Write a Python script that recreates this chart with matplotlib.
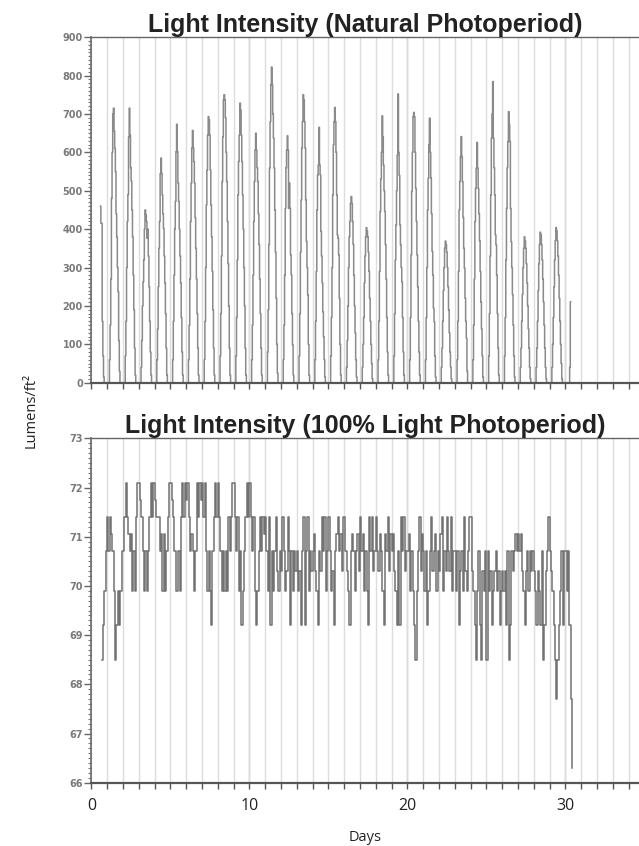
import matplotlib
matplotlib.use("Agg")
import matplotlib.pyplot as plt
import numpy as np
from matplotlib.ticker import MultipleLocator

# ---------------- data ----------------
# Natural photoperiod: light intensity (Lumens/ft^2) per day, sampled at these hours
NAT_HOURS = list(range(4, 20))  # h4 .. h19 (night = 0 outside)
NAT_DAYS = [
    [None, None, None, None, None, None, None, None, None, None, 460, 415, 415, 160, 70, 15],  # day 0
    [60, 150, 270, 480, 600, 700, 715, 655, 610, 550, 440, 380, 300, 237, 110, 30],
    [70, 160, 300, 420, 490, 640, 715, 645, 560, 525, 450, 380, 280, 190, 90, 20],
    [40, 110, 200, 263, 320, 400, 450, 437, 420, 376, 400, 330, 250, 160, 80, 20],
    [60, 140, 250, 350, 420, 545, 585, 545, 489, 440, 402, 330, 260, 180, 90, 20],
    [60, 160, 280, 400, 472, 602, 673, 602, 520, 472, 400, 330, 260, 170, 80, 20],
    [60, 150, 270, 420, 520, 611, 657, 611, 576, 520, 430, 350, 270, 180, 90, 20],
    [60, 160, 300, 463, 554, 645, 693, 685, 645, 554, 463, 380, 290, 190, 90, 20],
    [70, 180, 330, 524, 640, 737, 750, 737, 690, 600, 524, 420, 310, 200, 90, 20],
    [70, 170, 320, 489, 576, 645, 728, 710, 645, 576, 489, 400, 300, 200, 90, 20],
    [60, 150, 280, 420, 524, 606, 650, 606, 560, 524, 440, 360, 270, 180, 90, 20],
    [80, 190, 360, 559, 680, 776, 822, 776, 700, 637, 559, 450, 340, 220, 100, 25],
    [60, 150, 280, 454, 560, 606, 643, 606, 454, 520, 454, 333, 281, 180, 98, 20],
    [70, 180, 340, 476, 611, 680, 750, 737, 680, 611, 476, 368, 300, 229, 100, 20],
    [60, 160, 290, 450, 541, 567, 665, 567, 541, 394, 330, 260, 185, 120, 60, 15],
    [70, 170, 300, 489, 620, 680, 717, 680, 600, 489, 385, 376, 333, 220, 100, 20],
    [40, 110, 200, 300, 380, 420, 467, 485, 467, 420, 360, 280, 200, 130, 60, 15],
    [40, 100, 170, 260, 330, 380, 404, 395, 380, 340, 290, 220, 160, 100, 50, 10],
    [60, 160, 290, 446, 530, 600, 695, 640, 567, 500, 446, 360, 270, 170, 80, 20],
    [70, 180, 320, 411, 500, 593, 752, 600, 540, 411, 359, 300, 263, 170, 80, 20],
    [60, 170, 333, 498, 600, 693, 704, 693, 600, 506, 420, 333, 250, 160, 80, 20],
    [60, 170, 300, 450, 533, 620, 689, 600, 533, 440, 342, 280, 194, 159, 70, 15],
    [40, 90, 160, 240, 300, 350, 369, 360, 340, 300, 250, 190, 130, 80, 40, 10],
    [60, 160, 290, 450, 524, 589, 641, 589, 524, 430, 350, 298, 220, 160, 116, 30],
    [60, 150, 270, 420, 506, 559, 626, 559, 506, 440, 370, 290, 210, 140, 70, 15],
    [70, 180, 330, 489, 637, 700, 784, 637, 560, 489, 385, 359, 280, 180, 90, 20],
    [70, 170, 320, 454, 560, 628, 706, 672, 628, 454, 367, 300, 230, 150, 70, 15],
    [40, 90, 160, 230, 300, 350, 380, 370, 350, 310, 260, 200, 140, 90, 40, 10],
    [40, 90, 160, 240, 310, 360, 392, 385, 360, 320, 270, 210, 150, 90, 40, 10],
    [40, 100, 170, 250, 320, 370, 404, 395, 370, 330, 280, 220, 160, 100, 50, 10],
    [0, 0, 0, 40, 211, None, None, None, None, None, None, None, None, None, None, None],  # day 30
]

# 100% light photoperiod: 12 readings per day (every 2 h)
FULL_PER_DAY = 12
FULL_DAYS = [
    [None, None, None, None, None, None, None, None, 68.5, 69.2, 69.9, 70.7],
    [71.4, 70.7, 71.4, 71.05, 70.7, 69.9, 68.5, 69.2, 69.9, 69.2, 69.9, 70.7],
    [70.7, 71.4, 72.1, 71.4, 71.05, 70.7, 71.05, 69.9, 70.7, 69.9, 71.4, 72.1],
    [72.1, 71.75, 71.4, 70.7, 69.9, 70.7, 69.9, 70.7, 71.4, 72.1, 71.4, 72.1],
    [71.75, 71.4, 71.4, 71.4, 70.7, 71.05, 69.9, 71.05, 69.9, 70.7, 71.4, 72.1],
    [72.1, 71.75, 71.4, 70.7, 69.9, 69.9, 70.7, 69.9, 71.4, 72.1, 71.4, 72.1],
    [71.75, 72.1, 71.4, 70.7, 71.05, 70.7, 69.9, 70.7, 72.1, 71.4, 72.1, 71.75],
    [72.1, 71.4, 72.1, 70.7, 69.9, 70.7, 69.9, 69.2, 70.7, 71.4, 72.1, 71.4],
    [72.1, 71.4, 70.7, 69.9, 70.7, 69.9, 70.7, 69.9, 71.4, 70.7, 71.4, 72.1],
    [72.1, 71.4, 70.7, 71.4, 69.9, 70.7, 69.2, 69.9, 70.7, 71.4, 72.1, 71.4],
    [72.1, 71.4, 70.7, 71.4, 69.9, 69.2, 69.9, 70.7, 71.4, 70.7, 71.4, 71.05],
    [71.4, 70.7, 69.9, 71.4, 69.2, 70.7, 69.9, 70.7, 71.4, 70.3, 69.9, 70.7],
    [70.3, 71.4, 70.7, 69.9, 70.3, 71.4, 70.7, 69.2, 70.7, 69.9, 70.7, 70.3],
    [70.7, 69.9, 70.3, 69.2, 70.7, 71.4, 69.2, 70.7, 71.4, 69.9, 70.7, 70.3],
    [70.7, 71.05, 70.3, 69.9, 69.2, 70.7, 70.3, 71.4, 70.7, 71.4, 69.9, 70.7],
    [71.4, 70.7, 69.9, 70.3, 69.2, 70.7, 71.05, 71.4, 70.7, 71.05, 70.3, 71.4],
    [71.4, 70.7, 70.3, 69.9, 69.2, 70.7, 71.05, 70.7, 69.9, 70.7, 71.05, 70.3],
    [71.4, 70.7, 71.05, 69.9, 70.7, 69.9, 69.2, 71.4, 70.7, 71.4, 70.3, 70.7],
    [71.4, 70.7, 70.3, 71.05, 70.7, 69.9, 69.2, 71.05, 70.7, 71.4, 70.3, 71.05],
    [70.7, 71.05, 70.3, 69.9, 69.2, 70.7, 69.2, 71.4, 70.7, 71.4, 70.3, 70.7],
    [70.7, 71.05, 69.9, 70.7, 69.9, 69.2, 68.5, 69.9, 70.7, 71.4, 70.3, 71.05],
    [70.7, 69.9, 70.7, 69.2, 69.9, 70.7, 71.4, 70.3, 70.7, 71.05, 69.9, 70.7],
    [70.3, 71.05, 71.4, 69.9, 70.7, 70.3, 71.4, 70.7, 70.3, 71.4, 69.9, 70.7],
    [70.7, 69.9, 70.7, 69.2, 70.3, 70.7, 69.9, 71.4, 70.3, 69.9, 70.7, 71.4],
    [71.4, 70.3, 69.9, 69.2, 68.5, 69.9, 70.7, 69.2, 68.5, 70.3, 69.9, 70.7],
    [68.5, 70.7, 69.9, 70.3, 69.2, 69.9, 70.3, 70.7, 69.9, 70.3, 69.2, 69.9],
    [70.3, 69.9, 70.3, 69.2, 70.7, 68.5, 69.2, 70.7, 70.3, 70.7, 71.05, 70.7],
    [71.05, 70.7, 71.05, 70.3, 69.9, 69.2, 70.3, 70.7, 69.9, 70.7, 70.3, 70.7],
    [70.3, 69.9, 69.2, 70.3, 69.9, 69.2, 70.7, 68.5, 69.2, 70.3, 70.7, 71.4],
    [70.7, 70.3, 69.9, 69.2, 68.5, 67.7, 68.5, 69.2, 69.9, 70.7, 69.2, 70.7],
    [70.7, 69.9, 70.7, 69.2, 67.7, 66.3, None, None, None, None, None, None],
]

TITLE_TOP = "Light Intensity (Natural Photoperiod)"
TITLE_BOTTOM = "Light Intensity (100% Light Photoperiod)"
Y_LABEL = "Lumens/ft²"
X_LABEL = "Days"
X_MAX = 34.66

# ---------------- build series ----------------
nat_t, nat_v = [], []
for d, vals in enumerate(NAT_DAYS):
    hrs = list(NAT_HOURS)
    vv = list(vals)
    if vv[0] is not None:
        hrs = [3] + hrs
        vv = [0] + vv
    if vv[-1] is not None:
        hrs = hrs + [20]
        vv = vv + [0]
    for h, v in zip(hrs, vv):
        if v is not None:
            nat_t.append(d + h / 24.0)
            nat_v.append(v)

full_t, full_v = [], []
for d, vals in enumerate(FULL_DAYS):
    for i, v in enumerate(vals):
        if v is not None:
            full_t.append(d + i / FULL_PER_DAY)
            full_v.append(v)

# ---------------- figure ----------------
fig = plt.figure(figsize=(6.39, 8.46), dpi=100)
ax1 = fig.add_axes([0.1429, 0.5476, 0.8571, 0.4085])
ax2 = fig.add_axes([0.1429, 0.0748, 0.8571, 0.4071])

for ax in (ax1, ax2):
    ax.set_xlim(0, X_MAX)
    ax.set_xticks(range(0, 35))
    ax.grid(axis="x", color="#dcdcdc", lw=1.0, zorder=0)
    for d in (10, 20, 30):
        ax.axvline(d, color="#c2c2c2", lw=1.0, zorder=0.5)
    ax.spines["right"].set_visible(False)
    ax.spines["left"].set_color("#6a6a6a")
    ax.spines["left"].set_linewidth(1.2)
    ax.spines["bottom"].set_color("#555555")
    ax.spines["bottom"].set_linewidth(1.6)
    ax.spines["top"].set_color("#666666")
    ax.spines["top"].set_linewidth(1.0)
    ax.tick_params(axis="y", which="major", length=5, width=1, color="#666666",
                   labelsize=7, labelcolor="#7a7a7a", pad=1)
    ax.tick_params(axis="y", which="minor", length=2.5, width=0.8, color="#777777")
    ax.tick_params(axis="x", which="major", length=4, width=1, color="#555555",
                   labelsize=11.5, labelcolor="#222222", pad=7)

ax1.plot(nat_t, nat_v, color="#8a8a8a", lw=1.1, zorder=2, drawstyle="steps-mid")
ax1.set_ylim(0, 900)
ax1.yaxis.set_major_locator(MultipleLocator(100))
ax1.yaxis.set_minor_locator(MultipleLocator(10))
ax1.set_xticklabels([])

ax2.step(full_t, full_v, where="post", color="#727272", lw=1.1, zorder=2)
ax2.set_ylim(66, 73)
ax2.yaxis.set_major_locator(MultipleLocator(1))
ax2.yaxis.set_minor_locator(MultipleLocator(0.1))
ax2.set_xticklabels([str(d) if d % 10 == 0 else "" for d in range(0, 35)],
                    fontfamily="Open Sans")

for ax in (ax1, ax2):
    for lab in ax.get_yticklabels():
        lab.set_fontweight("bold")

ax1.set_title(TITLE_TOP, fontsize=18, fontweight="bold", color="#222222",
              family="Liberation Sans", pad=1)
ax2.set_title(TITLE_BOTTOM, fontsize=18, fontweight="bold", color="#222222",
              family="Liberation Sans", pad=1)

fig.text(0.049, 0.515, Y_LABEL, rotation=90, ha="center", va="center",
         fontsize=10.5, family="Open Sans", color="#222222")
fig.text(0.571, 0.0095, X_LABEL, ha="center", va="center",
         fontsize=10.5, family="Open Sans", color="#222222")

fig.savefig("out.png", dpi=100, facecolor="white")
